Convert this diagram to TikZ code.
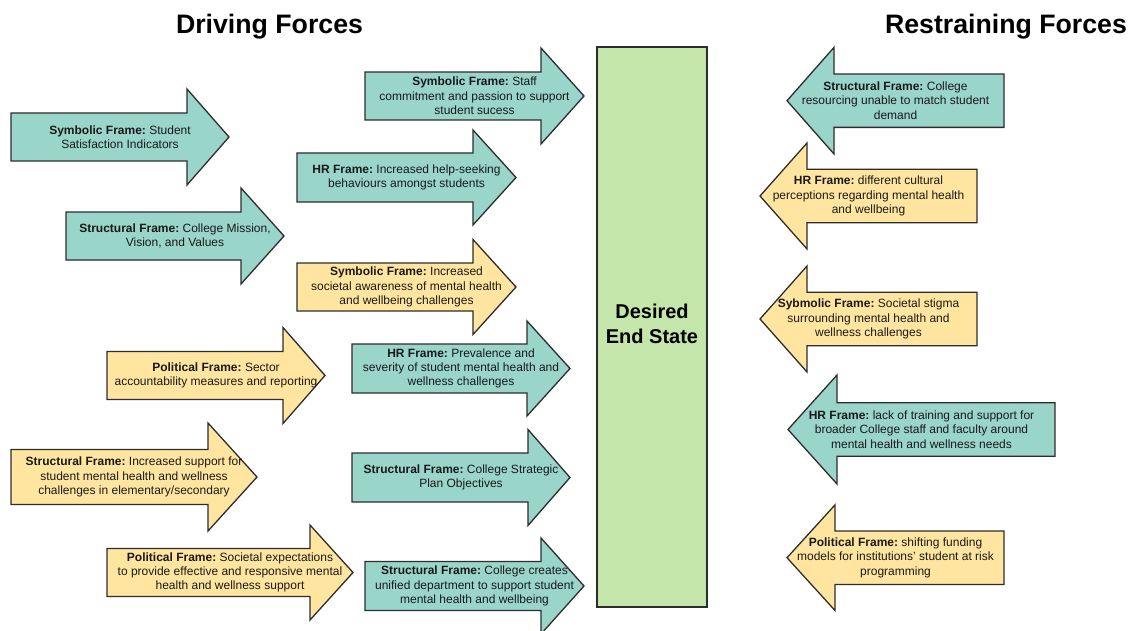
\documentclass[tikz,border=0pt]{standalone}
\usepackage{fontspec}
\setmainfont{Liberation Sans}
\frenchspacing
\definecolor{tealfill}{RGB}{154,213,202}
\definecolor{yelfill}{RGB}{255,229,159}
\definecolor{greenfill}{RGB}{197,230,170}
\definecolor{strokec}{RGB}{45,45,45}
\definecolor{textc}{RGB}{25,25,25}
\tikzset{
  arrowshape/.style={draw=strokec, line width=1.3pt, line join=miter},
  arrowtext/.style={align=center, inner sep=0pt, text=textc, font=\frenchspacing\fontsize{12}{14.3}\selectfont},
  titletext/.style={font=\bfseries\fontsize{26.7}{30}\selectfont, text=black, anchor=base},
  endbox/.style={draw=strokec, line width=1.3pt, fill=greenfill}
}
% fill, body end x, head base x, tip x, centre y, body half, head half, text, name
\newcommand\fa[9]{%
  \draw[arrowshape, fill=#1] ({#2},{#5-#6}) -- ({#3},{#5-#6}) -- ({#3},{#5-#7}) -- ({#4},{#5}) -- ({#3},{#5+#7}) -- ({#3},{#5+#6}) -- ({#2},{#5+#6}) -- cycle;
  \node[arrowtext] (#9) at ({(#2+#4)/2},{#5}) {#8};}
\begin{document}
\begin{tikzpicture}[x=1pt,y=-1pt]
\useasboundingbox (0,0) rectangle (1131,631);
\node[titletext] (drv) at (269.5,34) {Driving Forces};
\node[titletext] (rst) at (1006,34) {Restraining Forces};

\draw[endbox] (597,47) rectangle (707,607);
\node[align=center, inner sep=0pt, font=\bfseries\fontsize{20}{25}\selectfont] (des) at (652,324) {Desired\\End State};

% driving forces
\fa{tealfill}{11}{187}{229}{137}{24}{48}{\textbf{Symbolic Frame:} Student\\Satisfaction Indicators}{a1}
\fa{tealfill}{66}{241}{284}{236}{24}{48}{\textbf{Structural Frame:} College Mission,\\Vision, and Values}{a2}
\fa{tealfill}{365}{541}{584}{96}{24}{48}{\textbf{Symbolic Frame:} Staff\\commitment and passion to support\\student sucess}{a3}
\fa{tealfill}{297}{473}{516}{177.5}{24.5}{47.5}{\textbf{HR Frame:} Increased help-seeking\\behaviours amongst students}{a4}
\fa{yelfill}{297}{473}{516}{287}{24}{47.5}{\textbf{Symbolic Frame:} Increased\\societal awareness of mental health\\and wellbeing challenges}{a5}
\fa{tealfill}{352}{527}{570}{368.5}{24.5}{47.5}{\textbf{HR Frame:} Prevalence and\\severity of student mental health and\\wellness challenges}{a6}
\fa{yelfill}{107}{283}{325}{375.5}{24}{48}{\textbf{Political Frame:} Sector\\accountability measures and reporting}{a7}
\fa{yelfill}{11}{208}{257}{477}{27.5}{54}{\textbf{Structural Frame:} Increased support for\\student mental health and wellness\\challenges in elementary/secondary}{a8}
\fa{yelfill}{107}{310}{353}{572.5}{24}{47.5}{\textbf{Political Frame:} Societal expectations\\to provide effective and responsive mental\\health and wellness support}{a9}
\fa{tealfill}{352}{528}{570}{477.5}{24.5}{48}{\textbf{Structural Frame:} College Strategic\\Plan Objectives}{a10}
\fa{tealfill}{365}{541}{584}{586}{24.5}{48}{\textbf{Structural Frame:} College creates\\unified department to support student\\mental health and wellbeing}{a11}

% restraining forces
\fa{tealfill}{1004}{834}{787}{100.7}{26.7}{53.3}{\textbf{Structural Frame:} College\\resourcing unable to match student\\demand}{r1}
\fa{yelfill}{977}{807}{760}{196}{26.7}{53}{\textbf{HR Frame:} different cultural\\perceptions regarding mental health\\and wellbeing}{r2}
\fa{yelfill}{977}{807}{760}{319}{26.7}{53}{\textbf{Sybmolic Frame:} Societal stigma\\surrounding mental health and\\wellness challenges}{r3}
\fa{tealfill}{1055}{837}{788}{429.5}{26.8}{54.5}{\textbf{HR Frame:} lack of training and support for\\broader College staff and faculty around\\mental health and wellness needs}{r4}
\fa{yelfill}{1004}{835}{787}{557.7}{26.7}{52.8}{\textbf{Political Frame:} shifting funding\\models for institutions' student at risk\\programming}{r5}
\end{tikzpicture}
\end{document}
